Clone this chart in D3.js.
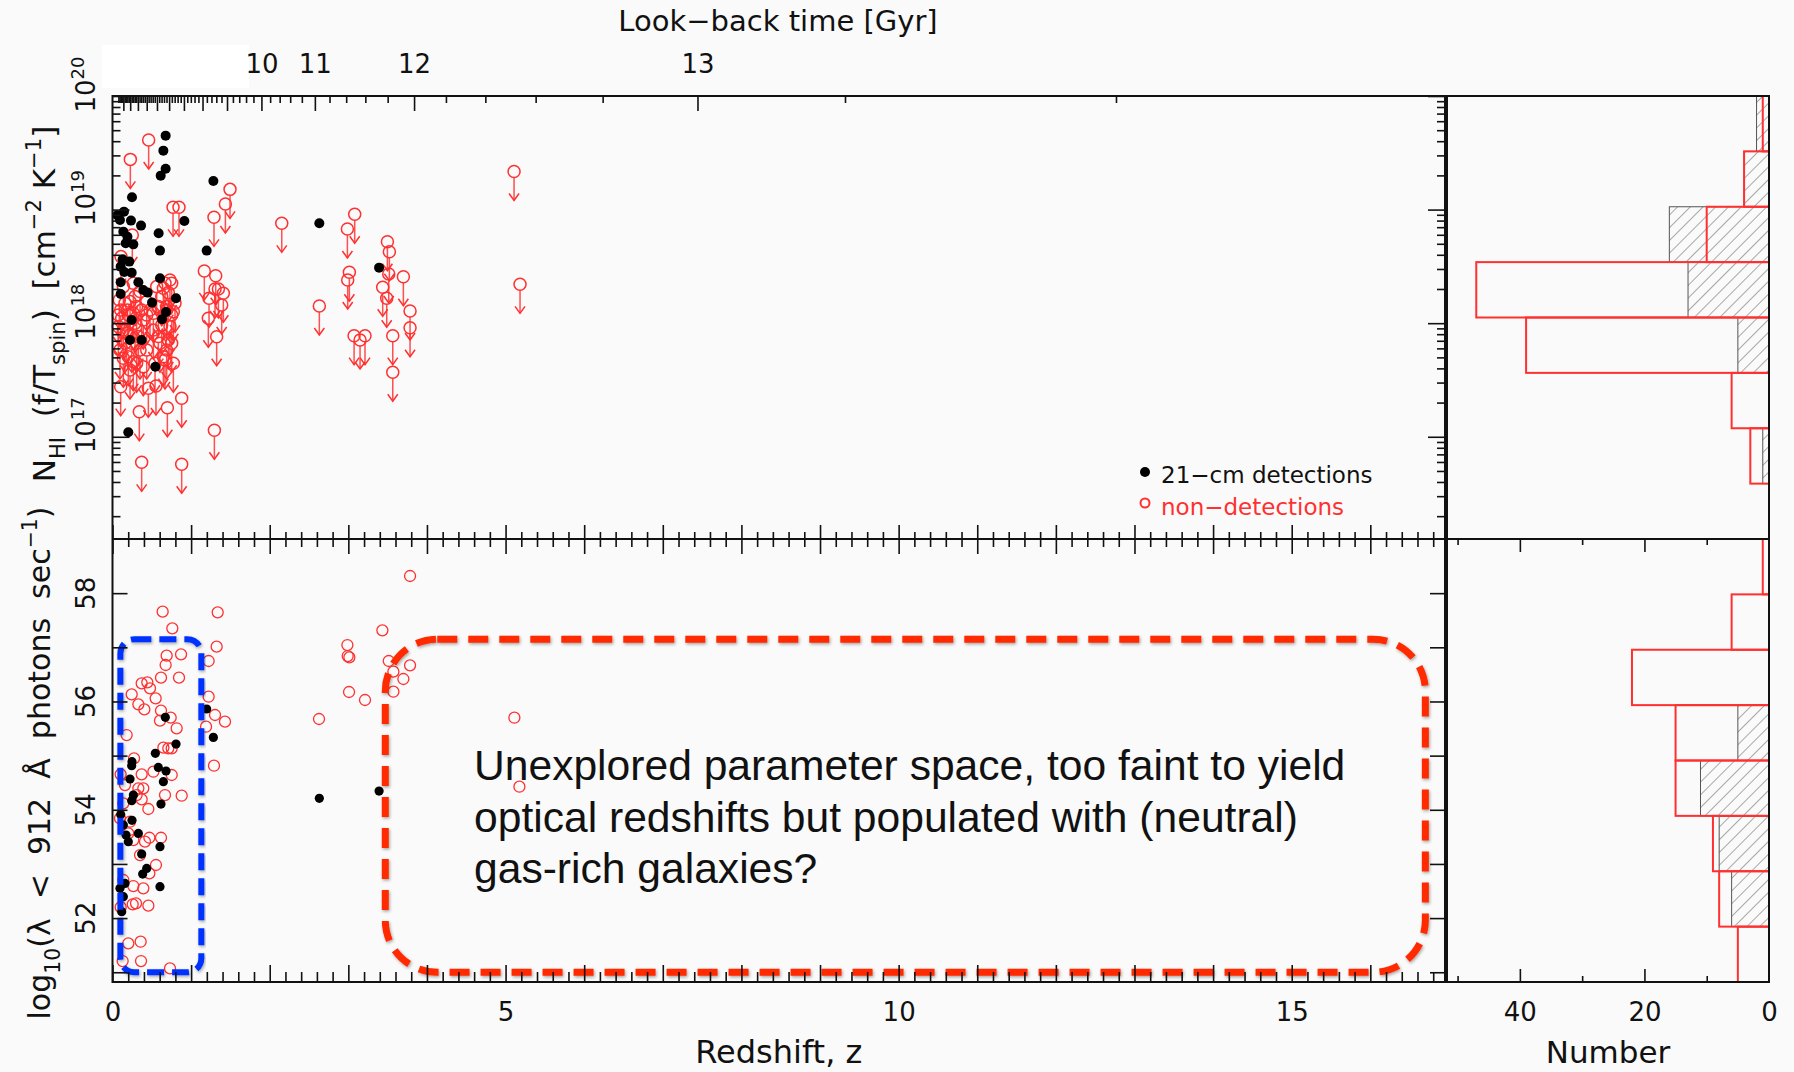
<!DOCTYPE html>
<html>
<head>
<meta charset="utf-8">
<title>HI column density and ionising photon rate vs redshift</title>
<style>
  body { margin: 0; background: #fafafa; }
  svg { display: block; background: #fafafa; }
  .tick line { stroke: #111; stroke-width: 1.6px; }
  .tick text { font-family: "DejaVu Sans", sans-serif; fill: #111; }
  .frame { fill: none; stroke: #111; stroke-width: 2px; }
  .lab { font-family: "DejaVu Sans", sans-serif; fill: #111; white-space: pre; }
  .note { font-family: "Liberation Sans", Arial, sans-serif; fill: #111; }
</style>
</head>
<body>
<svg id="chart" width="1794" height="1072"></svg>
<script src="https://cdn.jsdelivr.net/npm/d3@7"></script>
<script>
// ---- data ----
// [redshift, log10 N_HI (f/Tspin)]
var detTop = [[0.676,19.651],[0.647,19.519],[0.676,19.360],[0.613,19.299],[1.283,19.252],[0.248,19.108],
  [0.146,18.982],[0.095,18.908],[0.235,18.903],[0.363,18.859],[0.914,18.900],[0.138,18.806],[0.587,18.791],
  [0.168,18.703],[0.265,18.694],[0.604,18.639],[1.198,18.639],[0.129,18.562],[0.214,18.542],[0.104,18.498],
  [0.244,18.445],[0.604,18.395],[0.104,18.360],[0.329,18.360],[0.392,18.292],[0.447,18.269],[0.104,18.257],
  [0.808,18.219],[0.503,18.181],[0.681,18.099],[0.630,18.034],[0.244,18.028],[0.223,17.852],[0.371,17.852],
  [0.545,17.617],[0.201,17.039],[2.631,18.879],[3.391,18.489],[0.060,18.950],[0.190,18.760],[0.150,18.450]];

var limTop = [[0.460,19.613],[0.227,19.442],[0.770,19.020],[0.846,19.020],[1.495,19.178],[1.436,19.049],
  [1.291,18.932],[0.252,18.776],[0.108,18.586],[1.168,18.460],[1.313,18.418],[0.731,18.380],[0.668,18.351],
  [1.304,18.301],[1.347,18.301],[1.410,18.263],[1.228,18.219],[1.389,18.160],[0.626,18.234],[0.710,18.269],
  [0.477,18.116],[0.189,18.116],[0.265,18.087],[0.117,18.043],[0.774,18.101],[1.219,18.043],[1.325,17.881],
  [0.626,17.984],[0.731,17.970],[0.710,17.852],[0.392,18.028],[0.286,17.999],[0.138,17.940],[0.307,17.823],
  [0.689,17.764],[0.138,17.691],[0.265,17.661],[0.774,17.647],[0.668,17.676],[0.392,17.617],[0.456,17.427],
  [0.553,17.447],[0.880,17.339],[0.698,17.256],[0.341,17.221],[1.296,17.057],[0.371,16.775],[0.880,16.758],
  [0.223,17.588],[0.159,17.823],[0.604,17.823],[0.689,18.146],[0.350,17.764],[0.520,17.940],
  [2.153,18.879],[3.081,18.959],[2.988,18.829],[3.497,18.717],[3.522,18.629],[3.013,18.448],[2.992,18.380],
  [3.514,18.433],[3.700,18.409],[3.437,18.316],[3.488,18.219],[3.785,18.107],[3.785,17.960],[2.631,18.151],
  [3.073,17.890],[3.212,17.890],[3.149,17.852],[3.565,17.890],[3.565,17.568],[5.184,18.342],[5.108,19.335],
  [0.087,18.204],[0.159,18.175],[0.223,18.190],[0.307,18.146],[0.371,18.116],[0.435,18.190],[0.104,18.116],
  [0.201,18.072],[0.286,18.234],[0.350,18.278],[0.562,18.322],[0.647,18.307],[0.753,18.351],[0.689,18.116],
  [0.583,18.146],[0.520,18.087],[0.795,18.175],[0.138,18.322],[0.265,18.351],[0.435,18.072],[0.074,18.072],
  [0.753,18.072],
  [0.074,17.970],[0.180,17.911],[0.244,17.823],[0.329,17.882],[0.435,17.764],[0.095,17.764],[0.201,17.705],
  [0.307,17.647],[0.583,17.882],[0.647,17.705],[0.753,17.823],[0.541,17.647],[0.104,17.441]];

// [redshift, log10 ionising photon rate]
var detBot = [[0.672,55.707],[1.198,55.861],[1.283,55.337],[0.808,55.214],[0.545,55.042],[0.248,54.888],
  [0.244,54.814],[0.583,54.783],[0.681,54.716],[0.223,54.568],[0.647,54.519],[0.265,54.272],[0.244,54.168],
  [0.617,54.106],[0.104,53.915],[0.248,53.805],[0.172,53.534],[0.329,53.564],[0.201,53.411],[0.604,53.318],
  [0.371,53.183],[0.435,52.918],[0.384,52.813],[0.604,52.580],[0.138,52.395],[0.117,52.118],[2.631,54.212],
  [3.391,54.346],[0.138,53.718],[0.159,52.641],[0.095,52.549]];

var limBot = [[0.638,57.658],[1.338,57.646],[0.761,57.350],[1.325,57.012],[0.872,56.870],[0.689,56.846],
  [0.676,56.673],[1.223,56.747],[0.617,56.439],[0.846,56.439],[0.371,56.335],[0.443,56.353],[0.244,56.131],
  [0.549,56.058],[1.223,56.088],[0.329,55.947],[0.405,55.854],[0.617,55.830],[0.604,55.645],[0.740,55.701],
  [1.304,55.750],[1.431,55.627],[1.190,55.534],[0.647,55.147],[0.710,55.134],[0.753,55.134],[0.274,54.950],
  [0.371,54.654],[0.753,54.642],[1.291,54.814],[0.307,54.272],[0.371,54.192],[0.456,54.014],[0.880,54.260],
  [0.223,53.780],[0.201,53.564],[0.265,53.441],[0.413,53.411],[0.469,53.484],[0.617,53.484],[0.553,52.980],
  [0.469,52.826],[0.265,52.592],[0.299,52.272],[0.257,52.254],[0.456,52.229],[0.201,51.533],[0.358,51.564],
  [0.129,51.207],[0.363,51.207],[0.731,51.071],[0.104,54.654],[0.095,53.842],[0.104,52.201],
  [3.785,58.317],[3.433,57.314],[2.988,57.042],[2.992,56.839],[3.013,56.815],[3.514,56.747],[3.785,56.667],
  [3.573,56.550],[3.700,56.415],[3.009,56.175],[3.573,56.180],[3.212,56.027],[2.627,55.676],[5.112,55.700],
  [5.176,54.426],
  [0.477,56.242],[0.180,55.380],[0.816,55.505],[0.159,54.457],[0.329,54.396],[0.520,54.703],[0.668,54.272],
  [0.138,54.119],[0.392,54.396],[0.350,53.164],[0.138,52.703],[0.392,52.549]];

// histogram counts, first bin = top of panel
var histTopDet = [2, 4, 16, 13, 5, 0, 1, 0];
var histTopNon = [1, 4, 10, 47, 39, 6, 3, 0];
var histBotDet = [0, 0, 0, 5, 11, 8, 6, 0];
var histBotNon = [1, 6, 22, 15, 15, 9, 8, 5];

var zLabels = [0, 5, 10, 15];
var lookbackLabels = [10, 11, 12, 13];
var nhiDecades = [17, 18, 19, 20];
var photonLabels = [52, 54, 56, 58];
var countLabels = [40, 20, 0];
var noteLines = ["Unexplored parameter space, too faint to yield",
                 "optical redshifts but populated with (neutral)",
                 "gas-rich galaxies?"];

// ---- layout ----
var L = 112.5, R = 1445, T = 96, M = 539, B = 982, HL = 1447, HR = 1769;
var RED = "#ff3030";

var x = d3.scaleLinear().domain([0, 16.95]).range([L, R]);
var yTop = d3.scaleLog().domain([Math.pow(10, 16.1), 1e20]).range([M, T]);
var yBot = d3.scaleLinear().domain([50.82, 59]).range([B, M]);
var hx = d3.scaleLinear().domain([0, 51.7]).range([HR, HL]);

// look-back time = t0 - age(z), flat LCDM age (Om=0.27), scaled to match the printed tick labels
var Om = 0.27, OL = 0.73, tH = 14.73, t0 = 13.77;
function age(z) {
  var a = 1 / (1 + z);
  return 2 / (3 * Math.sqrt(OL)) * tH * Math.asinh(Math.sqrt(OL / Om) * Math.pow(a, 1.5));
}
function lookback(z) { return t0 - age(z); }
function zOfLookback(t) {
  var lo = 0, hi = 2000;
  for (var i = 0; i < 80; i++) { var mid = (lo + hi) / 2; if (lookback(mid) < t) lo = mid; else hi = mid; }
  return (lo + hi) / 2;
}

var svg = d3.select("#chart");
var defs = svg.append("defs");
defs.append("pattern").attr("id", "hatch").attr("patternUnits", "userSpaceOnUse")
    .attr("width", 9).attr("height", 9).attr("patternTransform", "rotate(45)")
  .append("line").attr("x1", 0).attr("y1", 0).attr("x2", 0).attr("y2", 9)
    .attr("stroke", "#555").attr("stroke-width", 1);
var sh = defs.append("filter").attr("id", "shadow").attr("x", "-5%").attr("y", "-5%").attr("width", "110%").attr("height", "110%");
sh.append("feDropShadow").attr("dx", 1).attr("dy", 1.5).attr("stdDeviation", 1.5)
  .attr("flood-color", "#000").attr("flood-opacity", 0.35);

// white patch over the first look-back labels
svg.append("rect").attr("x", 102).attr("y", 45).attr("width", 147).attr("height", 43).attr("fill", "#fff");

// ---- histograms ----
function hist(edgesHi, edgesLo, yScale, det, non, toY) {
  var n = det.length, w = (edgesHi - edgesLo) / n;
  var g = svg.append("g");
  det.forEach(function (c, i) {
    if (!c) return;
    var y0 = yScale(toY(edgesHi - i * w)), y1 = yScale(toY(edgesHi - (i + 1) * w));
    g.append("rect").attr("x", hx(c)).attr("y", y0).attr("width", hx(0) - hx(c)).attr("height", y1 - y0)
      .attr("fill", "url(#hatch)").attr("stroke", "#555").attr("stroke-width", 1);
  });
  non.forEach(function (c, i) {
    var y0 = yScale(toY(edgesHi - i * w)), y1 = yScale(toY(edgesHi - (i + 1) * w));
    g.append("rect").attr("x", hx(c)).attr("y", y0).attr("width", hx(0) - hx(c)).attr("height", y1 - y0)
      .attr("fill", "none").attr("stroke", RED).attr("stroke-width", 2);
  });
}
hist(20, 16.1, yTop, histTopDet, histTopNon, function (v) { return Math.pow(10, v); });
hist(59, 50.82, yBot, histBotDet, histBotNon, function (v) { return v; });

// ---- points ----
var pts = svg.append("g");
limTop.forEach(function (d) {
  var px = x(d[0]), py = yTop(Math.pow(10, d[1]));
  var g = pts.append("g").attr("stroke", RED).attr("fill", "none").attr("stroke-width", 1.5);
  g.append("circle").attr("cx", px).attr("cy", py).attr("r", 6);
  g.append("line").attr("x1", px).attr("x2", px).attr("y1", py + 6).attr("y2", py + 29).attr("stroke-opacity", 0.85);
  g.append("path").attr("d", "M" + (px - 5) + "," + (py + 22) + "L" + px + "," + (py + 29) + "L" + (px + 5) + "," + (py + 22));
});
pts.selectAll(".dt").data(detTop).enter().append("circle")
  .attr("cx", function (d) { return x(d[0]); })
  .attr("cy", function (d) { return yTop(Math.pow(10, d[1])); })
  .attr("r", 5).attr("fill", "#000");
pts.selectAll(".lb").data(limBot).enter().append("circle")
  .attr("cx", function (d) { return x(d[0]); })
  .attr("cy", function (d) { return yBot(d[1]); })
  .attr("r", 5.5).attr("fill", "none").attr("stroke", RED).attr("stroke-width", 1.3);
pts.selectAll(".db").data(detBot).enter().append("circle")
  .attr("cx", function (d) { return x(d[0]); })
  .attr("cy", function (d) { return yBot(d[1]); })
  .attr("r", 4.6).attr("fill", "#000");

// ---- annotation boxes ----
svg.append("rect").attr("x", x(0.1)).attr("y", yBot(57.15)).attr("width", x(1.13) - x(0.1))
  .attr("height", yBot(51.0) - yBot(57.15)).attr("rx", 14)
  .attr("fill", "none").attr("stroke", "#0033ff").attr("stroke-width", 6)
  .attr("stroke-dasharray", "17,8").attr("filter", "url(#shadow)");
svg.append("rect").attr("x", x(3.47)).attr("y", yBot(57.15)).attr("width", x(16.7) - x(3.47))
  .attr("height", yBot(51.0) - yBot(57.15)).attr("rx", 52)
  .attr("fill", "none").attr("stroke", "#ff2a00").attr("stroke-width", 7)
  .attr("stroke-dasharray", "20,11").attr("filter", "url(#shadow)");
var note = svg.append("text").attr("class", "note").style("font-size", "42.6px");
noteLines.forEach(function (s, i) {
  note.append("tspan").attr("x", 474).attr("y", 780 + i * 51.5).text(s);
});

// ---- axes ----
function ticks(tr, axis, vals, size) {
  var g = svg.append("g").attr("transform", tr)
    .call(axis.tickValues(vals).tickSize(size).tickSizeOuter(0).tickFormat(""));
  g.select(".domain").remove();
  return g;
}
var zMajor = d3.range(0, 17, 1).filter(function (v) { return v <= 16.95; });
var zMinor = d3.range(0, 16.95, 0.2).filter(function (v) { return Math.abs(v - Math.round(v)) > 0.01; });
var logMajor = nhiDecades.map(function (k) { return Math.pow(10, k); });
var logMinor = [];
[16, 17, 18, 19].forEach(function (k) {
  for (var m = 2; m <= 9; m++) { var v = m * Math.pow(10, k); if (v >= Math.pow(10, 16.1)) logMinor.push(v); }
});
var pMajor = d3.range(51, 59, 1);

// top panel
ticks("translate(" + L + ",0)", d3.axisLeft(yTop), logMinor, -8);
ticks("translate(" + L + ",0)", d3.axisLeft(yTop), logMajor, -17);
ticks("translate(" + R + ",0)", d3.axisRight(yTop), logMinor, -8);
ticks("translate(" + R + ",0)", d3.axisRight(yTop), logMajor, -17);
ticks("translate(0," + M + ")", d3.axisTop(x), zMinor, 7);
ticks("translate(0," + M + ")", d3.axisTop(x), zMajor, 14);
// look-back time ticks
var lbMinor = [], lbMajor = [];
d3.range(1, 69).forEach(function (i) {
  var t = i / 5, z = zOfLookback(t);
  if (z > 16.95) return;
  if (i % 5 === 0) lbMajor.push(z); else lbMinor.push(z);
});
ticks("translate(0," + T + ")", d3.axisBottom(x), lbMinor, 7);
ticks("translate(0," + T + ")", d3.axisBottom(x), lbMajor, 15);
var lbl = svg.append("g").attr("transform", "translate(0," + T + ")")
  .call(d3.axisTop(x).tickValues(lookbackLabels.map(zOfLookback)).tickSize(0).tickPadding(23)
    .tickFormat(function (d, i) { return lookbackLabels[i]; }));
lbl.select(".domain").remove();
lbl.selectAll("text").style("font-size", "26px");

// bottom panel
ticks("translate(0," + M + ")", d3.axisBottom(x), zMinor, 8);
ticks("translate(0," + M + ")", d3.axisBottom(x), zMajor, 15);
ticks("translate(0," + B + ")", d3.axisTop(x), zMinor, 10);
ticks("translate(0," + B + ")", d3.axisTop(x), zMajor, 17);
ticks("translate(" + L + ",0)", d3.axisLeft(yBot), pMajor, -15);
ticks("translate(" + R + ",0)", d3.axisRight(yBot), pMajor, -15);
var zl = svg.append("g").attr("transform", "translate(0," + B + ")")
  .call(d3.axisBottom(x).tickValues(zLabels).tickSize(0).tickPadding(21));
zl.select(".domain").remove();
zl.selectAll("text").style("font-size", "26px");

// histogram count axis
ticks("translate(0," + B + ")", d3.axisTop(hx), [10, 30, 50], 6);
ticks("translate(0," + B + ")", d3.axisTop(hx), [20, 40], 13);
ticks("translate(0," + M + ")", d3.axisBottom(hx), [10, 30, 50], 6);
ticks("translate(0," + M + ")", d3.axisBottom(hx), [20, 40], 13);
var hl = svg.append("g").attr("transform", "translate(0," + B + ")")
  .call(d3.axisBottom(hx).tickValues(countLabels).tickSize(0).tickPadding(21));
hl.select(".domain").remove();
hl.selectAll("text").style("font-size", "26px");

// rotated y tick labels
nhiDecades.forEach(function (k) {
  var t = svg.append("text").attr("class", "lab").style("font-size", "26px")
    .attr("transform", "translate(95," + yTop(Math.pow(10, k)) + ") rotate(-90)").attr("x", -16.5);
  t.append("tspan").text("10");
  t.append("tspan").attr("dy", -11).style("font-size", "18px").text(k);
});
photonLabels.forEach(function (v) {
  svg.append("text").attr("class", "lab").style("font-size", "26px").attr("text-anchor", "middle")
    .attr("transform", "translate(95," + yBot(v) + ") rotate(-90)").text(v);
});

// frames
svg.append("rect").attr("class", "frame").attr("x", L).attr("y", T).attr("width", R - L).attr("height", B - T);
svg.append("line").attr("class", "frame").attr("x1", L).attr("x2", R).attr("y1", M).attr("y2", M);
svg.append("rect").attr("class", "frame").attr("x", HL).attr("y", T).attr("width", HR - HL).attr("height", B - T);
svg.append("line").attr("class", "frame").attr("x1", HL).attr("x2", HR).attr("y1", M).attr("y2", M);

// titles
function rich(sel, parts, fs) {
  var shift = 0;
  parts.forEach(function (p) {
    var target = p.s === "sub" ? 0.32 : (p.s === "sup" ? -0.45 : 0);
    sel.append("tspan").attr("dy", (target - shift) * fs)
      .style("font-size", (p.s ? fs * 0.68 : fs) + "px").text(p.t);
    shift = target;
  });
}
svg.append("text").attr("class", "lab").attr("x", 778).attr("y", 31).attr("text-anchor", "middle")
  .style("font-size", "29px").text("Look\u2212back time [Gyr]");
svg.append("text").attr("class", "lab").attr("x", x(8.475)).attr("y", 1063).attr("text-anchor", "middle")
  .style("font-size", "32px").text("Redshift, z");
svg.append("text").attr("class", "lab").attr("x", (HL + HR) / 2).attr("y", 1063).attr("text-anchor", "middle")
  .style("font-size", "31px").text("Number");
var ty = svg.append("text").attr("class", "lab").attr("text-anchor", "middle")
  .attr("transform", "translate(55,304) rotate(-90)").style("font-size", "31px");
rich(ty, [{t: "N"}, {t: "HI", s: "sub"}, {t: "  (f/T"}, {t: "spin", s: "sub"}, {t: ")  [cm"},
          {t: "\u22122", s: "sup"}, {t: " K"}, {t: "\u22121", s: "sup"}, {t: "]"}], 31);
var by = svg.append("text").attr("class", "lab").attr("text-anchor", "middle")
  .attr("transform", "translate(50,763) rotate(-90)").style("font-size", "30px");
rich(by, [{t: "log"}, {t: "10", s: "sub"}, {t: "(\u03bb  <  912  \u00c5  photons  sec"},
          {t: "\u22121", s: "sup"}, {t: ")"}], 30);

// legend
svg.append("circle").attr("cx", 1145).attr("cy", 472).attr("r", 5).attr("fill", "#000");
svg.append("text").attr("class", "lab").attr("x", 1161).attr("y", 483).style("font-size", "23px")
  .text("21\u2212cm detections");
svg.append("circle").attr("cx", 1145).attr("cy", 503).attr("r", 4.5).attr("fill", "none")
  .attr("stroke", RED).attr("stroke-width", 2);
svg.append("text").attr("class", "lab").attr("x", 1161).attr("y", 515).style("font-size", "23px")
  .style("fill", RED).text("non\u2212detections");
</script>
</body>
</html>
